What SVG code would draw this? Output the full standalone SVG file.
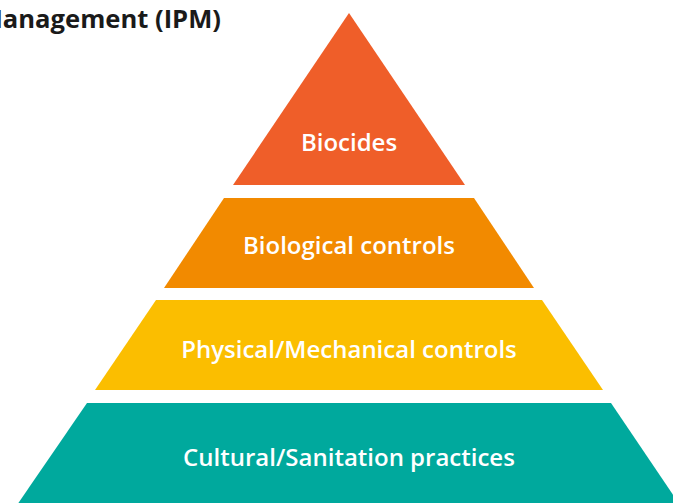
<svg xmlns="http://www.w3.org/2000/svg" width="673" height="503" viewBox="0 0 673 503">
<style>
.lbl{font-family:"Open Sans","Liberation Sans",sans-serif;font-weight:600;font-size:24px;fill:#ffffff;text-anchor:middle}
.title{font-family:"Open Sans","Liberation Sans",sans-serif;font-weight:700;font-size:25.6px;fill:#1a1a1a;text-anchor:end}
</style>
<rect width="673" height="503" fill="#ffffff"/>
<text class="title" x="221" y="28">Management (IPM)</text>
<g id="biocides">
<polygon points="349,13 465,185 233,185" fill="#EF5E29"/>
<text class="lbl" x="349" y="151">Biocides</text>
</g>
<g id="biological">
<polygon points="224,198 474,198 534,288 164,288" fill="#F28A00"/>
<text class="lbl" x="349" y="254">Biological controls</text>
</g>
<g id="physical">
<polygon points="156,300 542,300 603,390 95,390" fill="#FBBE00"/>
<text class="lbl" x="349" y="358">Physical/Mechanical controls</text>
</g>
<g id="cultural">
<polygon points="87,403 611,403 680,505 17,505" fill="#00A99D"/>
<text class="lbl" x="349" y="466">Cultural/Sanitation practices</text>
</g>
<g id="connectors"></g>
</svg>
